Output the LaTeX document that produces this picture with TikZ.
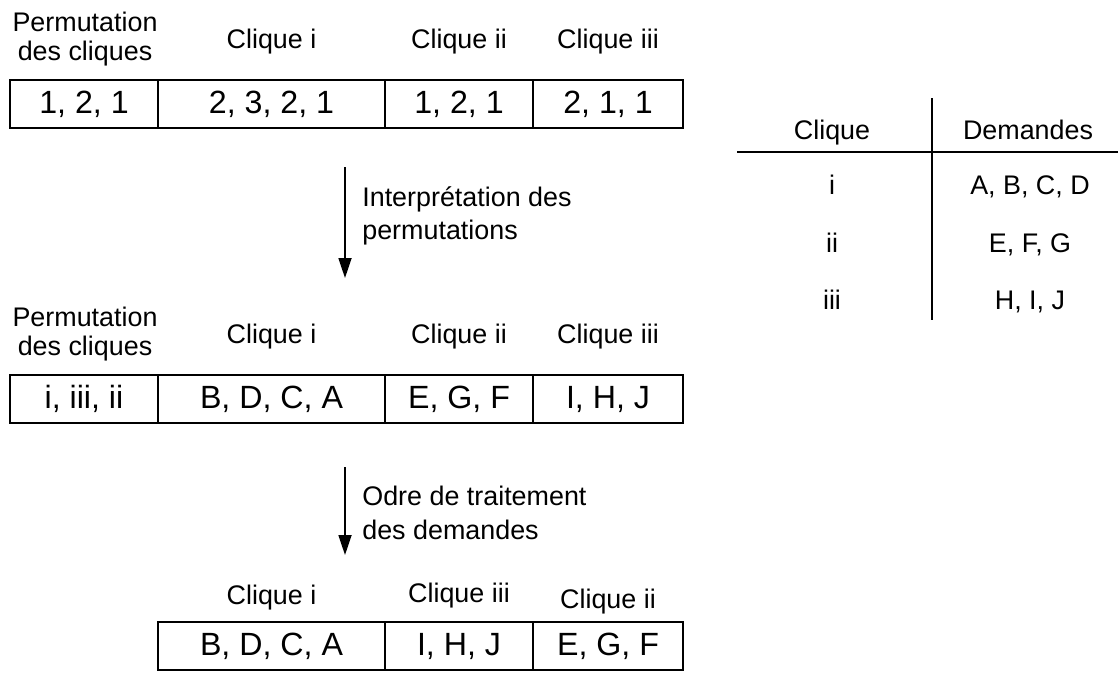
\documentclass[tikz,border=0pt]{standalone}
\usepackage{fontspec}
\setmainfont{Liberation Sans}
\usetikzlibrary{arrows.meta}
\tikzset{cell/.style={draw=black, line width=1.1pt, inner sep=0pt, minimum height=0.96cm, font=\fontsize{18.3}{20}\selectfont}}
\tikzset{lbl/.style={inner sep=0pt, align=center, font=\fontsize{15.3}{16.5}\selectfont}}
\tikzset{head/.style={inner sep=0pt, anchor=base, font=\fontsize{15.3}{16.5}\selectfont}}
\tikzset{note/.style={inner sep=0pt, align=left, anchor=west, font=\fontsize{15.3}{19}\selectfont}}
\tikzset{flow/.style={line width=1pt, -{Triangle[length=0.4cm, width=0.26cm]}}}
\tikzset{rule/.style={line width=1.1pt}}

\begin{document}
\begin{tikzpicture}[x=0.02cm, y=-0.02cm]
    \useasboundingbox (0, 0) rectangle (1118, 680);

    % permutations codees
    \node[lbl] (tperm1) at (85, 39) {Permutation\\des cliques};
    \node[head] (tci1) at (271.5, 48) {Clique i};
    \node[head] (tcii1) at (459, 48) {Clique ii};
    \node[head] (tciii1) at (608, 48) {Clique iii};

    \node[cell, minimum width=2.96cm] (perm1) at (84, 104) {1, 2, 1};
    \node[cell, minimum width=4.54cm] (ci1) at (271.5, 104) {2, 3, 2, 1};
    \node[cell, minimum width=2.96cm] (cii1) at (459, 104) {1, 2, 1};
    \node[cell, minimum width=3cm] (ciii1) at (608, 104) {2, 1, 1};

    \coordinate (s1) at (345, 167);
    \coordinate (e1) at (345, 278);
    \draw[flow] (s1) -- (e1);
    \node[note] (n1) at (362, 216) {Interprétation des\\permutations};

    % permutations interpretees
    \node[lbl] (tperm2) at (85, 334) {Permutation\\des cliques};
    \node[head] (tci2) at (271.5, 343) {Clique i};
    \node[head] (tcii2) at (459, 343) {Clique ii};
    \node[head] (tciii2) at (608, 343) {Clique iii};

    \node[cell, minimum width=2.96cm] (perm2) at (84, 399) {i, iii, ii};
    \node[cell, minimum width=4.54cm] (ci2) at (271.5, 399) {B, D, C, A};
    \node[cell, minimum width=2.96cm] (cii2) at (459, 399) {E, G, F};
    \node[cell, minimum width=3cm] (ciii2) at (608, 399) {I, H, J};

    \coordinate (s2) at (345, 467);
    \coordinate (e2) at (345, 555);
    \draw[flow] (s2) -- (e2);
    \node[note] (n2) at (362, 513) {Odre de traitement\\des demandes};

    % ordre final
    \node[head] (tci3) at (271.5, 604) {Clique i};
    \node[head] (tciii3) at (459, 602) {Clique iii};
    \node[head] (tcii3) at (608, 608) {Clique ii};

    \node[cell, minimum width=4.54cm] (ci3) at (271.5, 646) {B, D, C, A};
    \node[cell, minimum width=2.96cm] (ciii3) at (459, 646) {I, H, J};
    \node[cell, minimum width=3cm] (cii3) at (608, 646) {E, G, F};

    % table des demandes
    \coordinate (h1) at (737, 152);
    \coordinate (h2) at (1118, 152);
    \coordinate (v1) at (932, 98);
    \coordinate (v2) at (932, 320);
    \draw[rule] (h1) -- (h2);
    \draw[rule] (v1) -- (v2);

    \node[head] (hcl) at (832, 139) {Clique};
    \node[head] (hdem) at (1028, 139) {Demandes};
    \node[head] (ri) at (832, 194) {i};
    \node[head] (di) at (1030, 194) {A, B, C, D};
    \node[head] (rii) at (832, 252) {ii};
    \node[head] (dii) at (1030, 252) {E, F, G};
    \node[head] (riii) at (832, 309) {iii};
    \node[head] (diii) at (1030, 309) {H, I, J};
\end{tikzpicture}
\end{document}
